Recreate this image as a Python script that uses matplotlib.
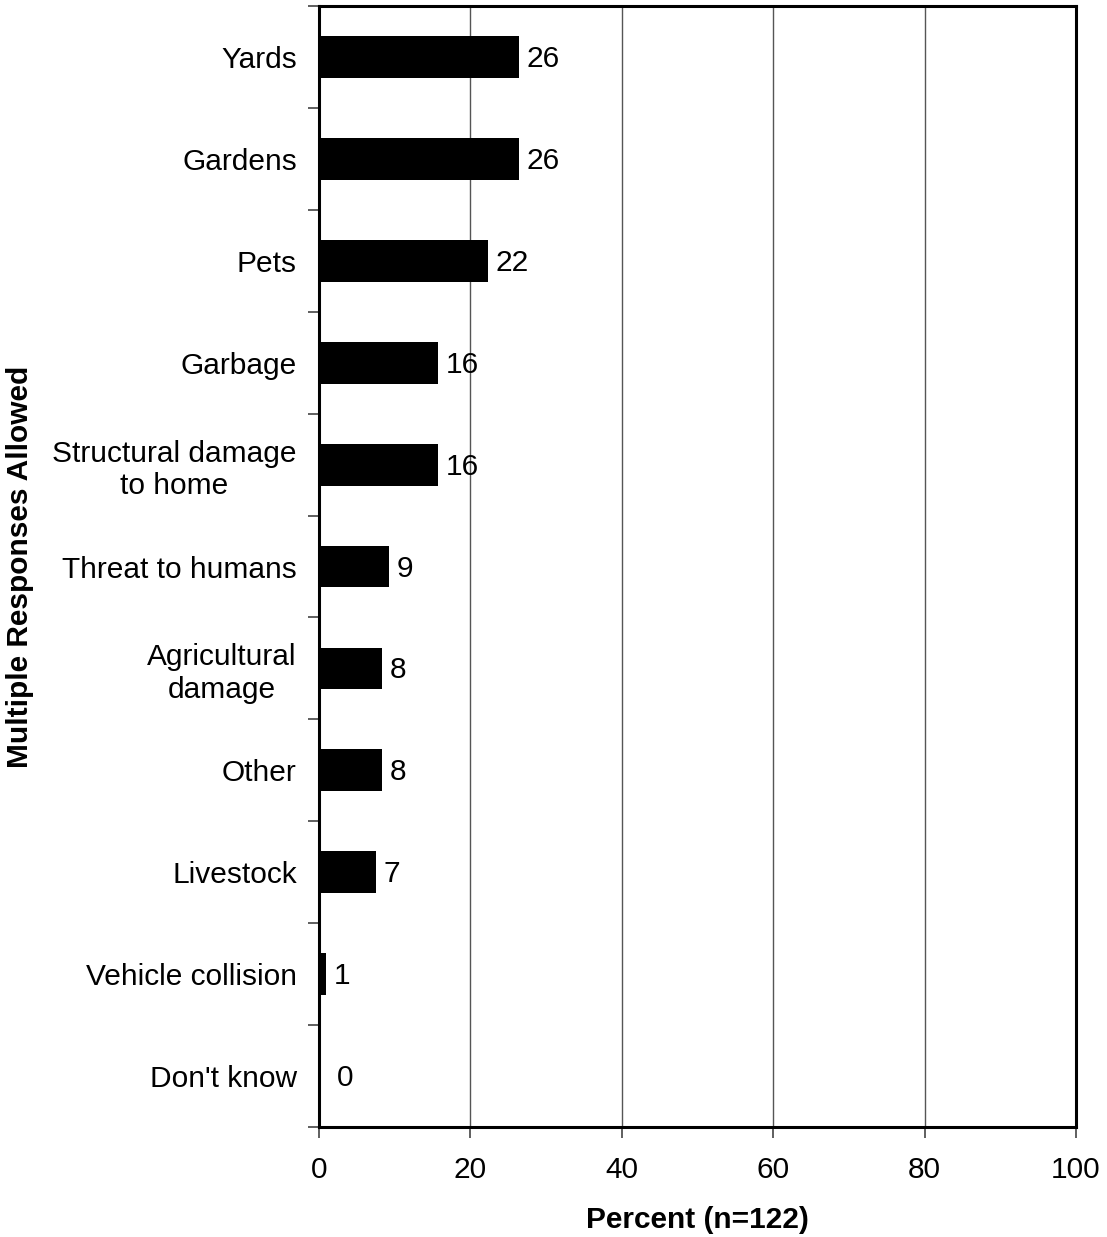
import numpy as np
import matplotlib
matplotlib.use('Agg')
import matplotlib.pyplot as plt
from matplotlib.ticker import FixedLocator

plt.rcParams['font.family'] = ['Liberation Sans', 'DejaVu Sans']

categories = ['Yards', 'Gardens', 'Pets', 'Garbage', 'Structural damage\nto home',
              'Threat to humans', 'Agricultural\ndamage', 'Other', 'Livestock',
              'Vehicle collision', "Don't know"]
values = [26.4, 26.4, 22.3, 15.7, 15.7, 9.2, 8.3, 8.3, 7.5, 0.9, 0.0]
labels = ['26', '26', '22', '16', '16', '9', '8', '8', '7', '1', '0']
xticks = [0, 20, 40, 60, 80, 100]

FS = 21.5

fig = plt.figure(figsize=(11.07, 12.37), dpi=100)
ax = fig.add_axes([0.2882, 0.0889, 0.972 - 0.2882, 0.9951 - 0.0889])

y = np.arange(len(categories))
ax.barh(y, values, height=0.41, color='black', zorder=3)

# value labels just right of each bar
for yi, v, lab in zip(y, values, labels):
    off = 8 if v > 0 else 18
    ax.annotate(lab, xy=(v, yi), xytext=(off, -2), textcoords='offset pixels',
                ha='left', va='center', fontsize=FS, zorder=4)

ax.set_xlim(0, 100)
ax.set_ylim(len(categories) - 0.5, -0.5)
ax.set_xticks(xticks)
ax.set_xticklabels([str(t) for t in xticks], fontsize=FS)
ax.set_yticks(y)
ax.set_yticklabels(categories, fontsize=FS, ha='right', multialignment='center')
ax.yaxis.set_minor_locator(FixedLocator(np.arange(-0.5, len(categories), 1.0)))
ax.tick_params(axis='y', which='major', length=0, pad=16)
ax.tick_params(axis='y', which='minor', length=8, width=1.2, color='#444444', direction='out')
ax.tick_params(axis='x', which='major', length=8, width=1.2, color='#444444', direction='out', pad=13)

for t in xticks[1:-1]:
    ax.axvline(t, color='#555555', linewidth=1, zorder=1)

for s in ax.spines.values():
    s.set_linewidth(2.2)
    s.set_color('black')

ax.set_xlabel('Percent (n=122)', fontsize=FS, fontweight='bold', labelpad=16)
ax.set_ylabel('Multiple Responses Allowed', fontsize=FS, fontweight='bold')
ax.yaxis.set_label_coords(-0.376, 0.5)

fig.savefig('out.png', dpi=100)
